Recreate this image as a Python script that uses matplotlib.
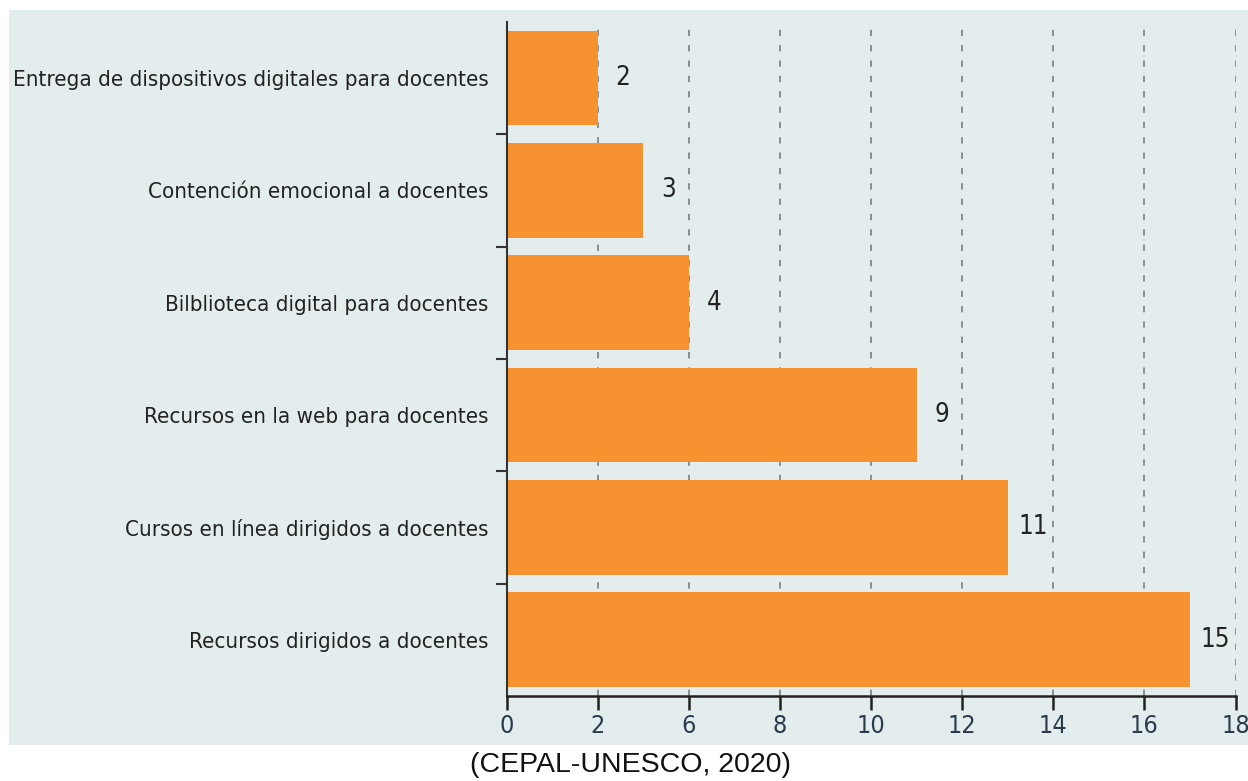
import matplotlib.pyplot as plt
from matplotlib.patches import Rectangle

categories = ['Recursos dirigidos a docentes',
              'Cursos en línea dirigidos a docentes',
              'Recursos en la web para docentes',
              'Bilblioteca digital para docentes',
              'Contención emocional a docentes',
              'Entrega de dispositivos digitales para docentes']
counts = [15, 11, 9, 4, 3, 2]
x_ticks = [0, 2, 4, 6, 8, 10, 12, 14, 16]
x_tick_labels = ['0', '2', '6', '8', '10', '12', '14', '16', '18']

bar_color = '#f6922f'
panel_color = '#e4eded'
text_color = '#222222'
tick_color = '#2b3a4c'

fig = plt.figure(figsize=(12.48, 7.81), dpi=100)
fig.patches.append(Rectangle((0.007, 0.046), 0.993, 0.941, transform=fig.transFigure,
                             facecolor=panel_color, edgecolor='none', zorder=-10))

ax = fig.add_axes([0.406, 0.109, 0.584, 0.863])
ax.set_facecolor('none')
ax.set_zorder(2)

ypos = range(len(categories))
ax.barh(ypos, counts, height=0.845, color=bar_color, zorder=2)
for y, v in zip(ypos, counts):
    ax.text(v + 0.55, y, str(v), va='center', ha='center', fontsize=18.5,
            fontstretch='condensed', color=text_color)

ax.set_xlim(0, 16)
ax.set_ylim(-0.5, len(categories) - 0.5)

ax.set_xticks(x_ticks)
ax.set_xticklabels(x_tick_labels, fontsize=18, fontstretch='condensed', color=tick_color)
ax.tick_params(axis='x', length=10, width=1.8, color='#222222', pad=3)

# category labels sit at bar centres, tick marks go between bars
ax.set_yticks(list(ypos))
ax.set_yticklabels(categories, fontsize=16, fontstretch='condensed', color=text_color)
ax.tick_params(axis='y', length=0, pad=13)
ax.set_yticks([i + 0.5 for i in range(len(categories) - 1)], minor=True)
ax.tick_params(axis='y', which='minor', length=8, width=1.5, color='#333333')

for x in x_ticks[1:]:
    ax.axvline(x, color='#858585', linestyle=(0, (3.5, 5)), linewidth=1.3, zorder=1)

for side in ['top', 'right']:
    ax.spines[side].set_visible(False)
ax.spines['bottom'].set_linewidth(1.8)
ax.spines['bottom'].set_color('#222222')
ax.spines['left'].set_linewidth(1.5)
ax.spines['left'].set_color('#333333')

fig.text(0.505, 0.020, '(CEPAL-UNESCO, 2020)', ha='center', va='center',
         fontsize=20.5, family='Liberation Sans', color='#111111')

fig.savefig('out.png', dpi=100)
